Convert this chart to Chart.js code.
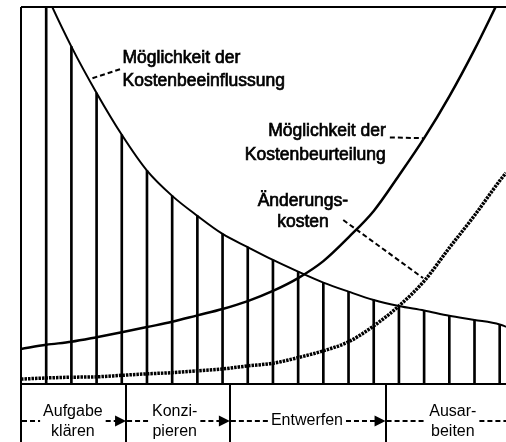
<!DOCTYPE html>
<html lang="de">
<head>
<meta charset="utf-8">
<title>Kostenbeeinflussung</title>
<script src="https://cdn.jsdelivr.net/npm/chart.js@4/dist/chart.umd.min.js"></script>
<style>
    html, body { margin: 0; padding: 0; background: #fff; }
    #wrap { width: 506px; height: 442px; }
</style>
</head>
<body>
<div id="wrap"><canvas id="kostenChart" width="506" height="442"></canvas></div>
<script>
// Zeitachse im Raster der Schraffur (eine Einheit = ein Schraffurstrich)
const stufen = [0, 1, 2, 3, 4, 5, 6, 7, 8, 9, 10, 11, 12, 13, 14, 15, 16, 17, 18, 19, 19.25];

// Kurven in % der Diagrammhöhe
const beeinflussung = [119, 103.5, 89.5, 77.2, 66.1, 56.6, 49.9, 44.6, 39.8, 36.3, 32.9, 29.8, 26.9, 24.5, 22.3, 20.7, 19.5, 18.1, 17.0, 15.8, 15.2];
const beurteilung = [9.3, 10.4, 11.2, 12.4, 13.7, 15.1, 16.5, 18.2, 19.9, 22.0, 24.7, 28.1, 32.6, 38.9, 45.9, 55.3, 65.2, 76.3, 88.7, 102.2, 105.5];
const aenderungskosten = [1.3, 1.6, 1.8, 1.9, 2.3, 2.7, 3.0, 3.5, 4.0, 4.8, 5.5, 7.0, 8.8, 11.2, 15.4, 20.7, 27.3, 36.1, 44.7, 53.9, 56.0];

const kurvenNamen = [
    ["Möglichkeit der", "Kostenbeeinflussung"],
    ["Möglichkeit der", "Kostenbeurteilung"],
    ["Änderungs-", "kosten"]
];

// Phasen unter der Achse
const phasen = [["Aufgabe", "klären"], ["Konzi-", "pieren"], ["Entwerfen"], ["Ausar-", "beiten"]];
const phasenGrenzen = [0, 4.17, 8.29, 14.47, 19.25];
const phasenMitte = [2.06, 6.1, 11.35, 17.14];

function punkte(werte) {
    return stufen.map(function (x, i) { return { x: x, y: werte[i] }; });
}

const schraffur = stufen.slice(1, 20).map(function (x, i) {
    return { x: x, y: beeinflussung[i + 1] };
});

const fontText = "Liberation Sans, Arial, sans-serif";

const rahmenPlugin = {
    id: "rahmen",
    afterDatasetsDraw: function (chart) {
        const ctx = chart.ctx;
        const area = chart.chartArea;
        const xs = chart.scales.x;
        const ys = chart.scales.y;
        const h = chart.height;
        const px = function (v) { return xs.getPixelForValue(v); };
        const py = function (v) { return ys.getPixelForValue(v); };

        ctx.save();
        ctx.strokeStyle = "#000";
        ctx.fillStyle = "#000";
        ctx.setLineDash([]);

        // Rahmen oben, links, Achse
        ctx.lineWidth = 2;
        ctx.beginPath();
        ctx.moveTo(area.left, area.top);
        ctx.lineTo(area.right, area.top);
        ctx.moveTo(area.left, area.top);
        ctx.lineTo(area.left, h);
        ctx.moveTo(area.left, area.bottom);
        ctx.lineTo(area.right, area.bottom);
        ctx.stroke();

        // Phasengrenzen
        ctx.beginPath();
        for (let i = 1; i < phasenGrenzen.length - 1; i++) {
            const x = Math.round(px(phasenGrenzen[i]));
            ctx.moveTo(x, area.bottom);
            ctx.lineTo(x, h);
        }
        ctx.stroke();

        // Phasentexte mit Pfeilen
        const yPfeil = area.bottom + 37;
        ctx.font = "16px " + fontText;
        ctx.textAlign = "center";
        ctx.textBaseline = "middle";
        phasen.forEach(function (zeilen, i) {
            const xm = px(phasenMitte[i]);
            const xa = px(phasenGrenzen[i]);
            const xe = px(phasenGrenzen[i + 1]);
            let w = 0;
            zeilen.forEach(function (z) { w = Math.max(w, ctx.measureText(z).width); });
            if (zeilen.length === 1) {
                ctx.fillText(zeilen[0], xm, yPfeil);
            } else {
                ctx.fillText(zeilen[0], xm, yPfeil - 9);
                ctx.fillText(zeilen[1], xm, yPfeil + 11);
            }
            const letzte = i === phasen.length - 1;
            ctx.lineWidth = 2;
            ctx.setLineDash([5, 3]);
            ctx.beginPath();
            ctx.moveTo(xa + 1, yPfeil);
            ctx.lineTo(xm - w / 2 - 3, yPfeil);
            ctx.moveTo(xm + w / 2 + 3, yPfeil);
            ctx.lineTo(letzte ? xe : xe - 10, yPfeil);
            ctx.stroke();
            ctx.setLineDash([]);
            if (!letzte) {
                ctx.beginPath();
                ctx.moveTo(xe, yPfeil);
                ctx.lineTo(xe - 11, yPfeil - 5.5);
                ctx.lineTo(xe - 11, yPfeil + 5.5);
                ctx.closePath();
                ctx.fill();
            }
        });

        // Kurvenbeschriftungen
        const beschriftung = [
            { x: 4.03, y: [86.5, 80.4], align: "left", von: [3.93, 83.5], bis: [2.74, 80.9] },
            { x: 14.48, y: [67.0, 60.8], align: "right", von: [14.64, 65.4], bis: [15.96, 65.2] },
            { x: 11.19, y: [48.6, 42.8], align: "center", von: [12.79, 43.5], bis: [15.96, 28.1] }
        ];
        ctx.font = "17.5px " + fontText;
        ctx.lineWidth = 0.7;
        beschriftung.forEach(function (b, i) {
            ctx.textAlign = b.align;
            kurvenNamen[i].forEach(function (z, j) {
                ctx.fillText(z, px(b.x), py(b.y[j]));
                ctx.strokeText(z, px(b.x), py(b.y[j]));
            });
        });
        ctx.lineWidth = 2;
        ctx.setLineDash([5, 3]);
        beschriftung.forEach(function (b) {
            ctx.beginPath();
            ctx.moveTo(px(b.von[0]), py(b.von[1]));
            ctx.lineTo(px(b.bis[0]), py(b.bis[1]));
            ctx.stroke();
        });
        ctx.restore();
    }
};

new Chart(document.getElementById("kostenChart"), {
    type: "bar",
    data: {
        datasets: [
            {
                type: "line",
                label: kurvenNamen[0].join(" "),
                data: punkte(beeinflussung),
                borderColor: "#000",
                borderWidth: 2,
                pointRadius: 0,
                cubicInterpolationMode: "monotone"
            },
            {
                type: "line",
                label: kurvenNamen[1].join(" "),
                data: punkte(beurteilung),
                borderColor: "#000",
                borderWidth: 2.5,
                pointRadius: 0,
                cubicInterpolationMode: "monotone"
            },
            {
                type: "line",
                label: kurvenNamen[2].join(" "),
                data: punkte(aenderungskosten),
                borderColor: "#000",
                borderWidth: 3.5,
                borderDash: [2.5, 1],
                pointRadius: 0,
                cubicInterpolationMode: "monotone"
            },
            {
                type: "bar",
                label: "Schraffur",
                data: schraffur,
                backgroundColor: "#000",
                barThickness: 2,
                grouped: false
            }
        ]
    },
    options: {
        responsive: false,
        animation: false,
        layout: {
            padding: { left: 21, top: 7, right: 0, bottom: 58 }
        },
        scales: {
            x: { type: "linear", min: 0, max: 19.25, offset: false, display: false },
            y: { min: 0, max: 100, display: false }
        },
        plugins: {
            legend: { display: false },
            tooltip: { enabled: false },
            title: { display: false }
        }
    },
    plugins: [rahmenPlugin]
});
</script>
</body>
</html>
